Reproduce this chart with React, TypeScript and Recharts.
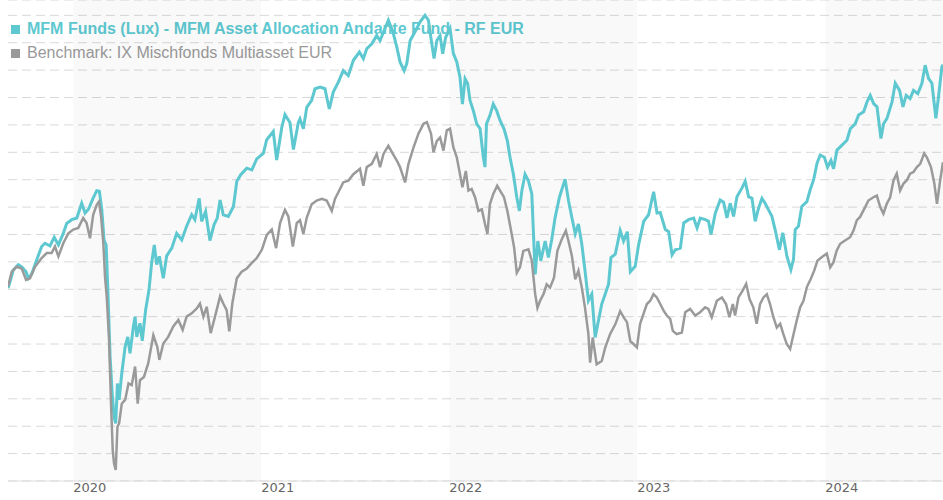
import React from 'react';
import {
  LineChart, Line, XAxis, YAxis, CartesianGrid, ReferenceArea,
} from 'recharts';

const FUND_NAME = 'MFM Funds (Lux) - MFM Asset Allocation Andante Fund - RF EUR';
const BENCH_NAME = 'Benchmark: IX Mischfonds Multiasset EUR';

const FUND_COLOR = '#5ec8d0';
const BENCH_COLOR = '#9a9a9a';

const yearTicks = [2020, 2021, 2022, 2023, 2024];
const shadedYears = [2020, 2022, 2024];
const valueTicks = [65, 70, 75, 80, 85, 90, 95, 100, 105, 110, 115, 120, 125, 130, 135, 140, 145, 150];

// x positions as decimal years
const fundYears = [
  2019.653, 2019.664, 2019.681, 2019.708, 2019.726, 2019.749, 2019.761, 2019.779, 2019.806, 2019.832,
  2019.850, 2019.876, 2019.899, 2019.921, 2019.947, 2019.965, 2019.992, 2020.019, 2020.045, 2020.063,
  2020.081, 2020.104, 2020.125, 2020.139, 2020.152, 2020.164, 2020.175, 2020.184, 2020.196, 2020.207,
  2020.217, 2020.226, 2020.235, 2020.244, 2020.258, 2020.276, 2020.290, 2020.302, 2020.320, 2020.329,
  2020.338, 2020.355, 2020.367, 2020.385, 2020.403, 2020.417, 2020.431, 2020.444, 2020.458, 2020.479,
  2020.497, 2020.524, 2020.550, 2020.577, 2020.603, 2020.630, 2020.647, 2020.670, 2020.683, 2020.704,
  2020.727, 2020.749, 2020.766, 2020.781, 2020.798, 2020.825, 2020.852, 2020.870, 2020.891, 2020.923,
  2020.950, 2020.976, 2021.011, 2021.029, 2021.064, 2021.082, 2021.109, 2021.126, 2021.153, 2021.171,
  2021.197, 2021.206, 2021.224, 2021.242, 2021.268, 2021.286, 2021.313, 2021.339, 2021.348, 2021.362,
  2021.383, 2021.410, 2021.436, 2021.463, 2021.490, 2021.522, 2021.543, 2021.561, 2021.588, 2021.614,
  2021.632, 2021.658, 2021.676, 2021.700, 2021.721, 2021.738, 2021.760, 2021.774, 2021.792, 2021.818,
  2021.845, 2021.871, 2021.889, 2021.907, 2021.919, 2021.934, 2021.951, 2021.965, 2021.981, 2022.004,
  2022.022, 2022.040, 2022.057, 2022.070, 2022.084, 2022.098, 2022.110, 2022.128, 2022.146, 2022.164,
  2022.181, 2022.190, 2022.198, 2022.216, 2022.234, 2022.252, 2022.270, 2022.291, 2022.309, 2022.323,
  2022.341, 2022.359, 2022.373, 2022.386, 2022.403, 2022.421, 2022.439, 2022.457, 2022.471, 2022.487,
  2022.510, 2022.527, 2022.545, 2022.563, 2022.586, 2022.616, 2022.634, 2022.652, 2022.670, 2022.687,
  2022.705, 2022.722, 2022.740, 2022.758, 2022.776, 2022.793, 2022.811, 2022.829, 2022.847, 2022.860,
  2022.883, 2022.909, 2022.927, 2022.947, 2022.963, 2022.989, 2023.007, 2023.034, 2023.060, 2023.087,
  2023.105, 2023.122, 2023.149, 2023.167, 2023.185, 2023.202, 2023.229, 2023.247, 2023.273, 2023.300,
  2023.318, 2023.335, 2023.362, 2023.379, 2023.392, 2023.415, 2023.441, 2023.459, 2023.477, 2023.494,
  2023.512, 2023.530, 2023.557, 2023.574, 2023.592, 2023.610, 2023.627, 2023.645, 2023.663, 2023.680,
  2023.698, 2023.716, 2023.733, 2023.756, 2023.774, 2023.796, 2023.817, 2023.831, 2023.840, 2023.857,
  2023.875, 2023.902, 2023.920, 2023.938, 2023.956, 2023.973, 2023.995, 2024.012, 2024.030, 2024.044,
  2024.062, 2024.089, 2024.115, 2024.133, 2024.159, 2024.177, 2024.204, 2024.222, 2024.239, 2024.257,
  2024.275, 2024.296, 2024.310, 2024.328, 2024.355, 2024.372, 2024.395, 2024.413, 2024.430, 2024.451,
  2024.469, 2024.492, 2024.514, 2024.531, 2024.549, 2024.567, 2024.588, 2024.602, 2024.620, 2024.626,
];

const fundValues = [
  100.2, 101.4, 103.5, 104.5, 104.1, 103.2, 102.0, 102.8, 105.4, 107.8,
  108.4, 107.9, 109.5, 108.1, 110.2, 112.0, 112.7, 113.0, 115.7, 113.9,
  114.6, 116.5, 118.0, 117.9, 114.5, 108.9, 108.1, 99.9, 87.7, 81.0,
  76.7, 75.5, 82.8, 79.8, 84.6, 89.5, 91.3, 88.3, 93.2, 95.0,
  91.3, 93.8, 90.6, 96.2, 99.9, 104.8, 108.1, 104.5, 106.0, 102.0,
  106.1, 107.5, 110.2, 109.0, 111.5, 113.6, 112.7, 116.6, 112.4, 114.2,
  108.9, 111.8, 113.0, 116.3, 113.6, 113.3, 115.1, 119.7, 120.9, 122.1,
  121.8, 123.8, 124.8, 127.3, 128.8, 123.6, 129.5, 131.9, 130.4, 125.5,
  130.4, 131.1, 129.3, 133.2, 134.5, 136.6, 136.9, 136.6, 135.1, 132.9,
  136.0, 137.8, 139.9, 139.0, 141.8, 143.3, 142.1, 143.9, 144.8, 146.3,
  145.4, 147.6, 149.1, 147.0, 144.2, 141.5, 139.9, 141.2, 145.4, 147.0,
  148.8, 150.0, 149.1, 144.8, 142.1, 145.4, 146.3, 143.0, 146.0, 147.6,
  143.0, 141.5, 138.7, 133.8, 138.4, 137.5, 134.5, 132.6, 130.2, 129.3,
  124.1, 122.3, 130.2, 131.7, 133.8, 132.6, 130.8, 129.3, 127.1, 124.1,
  121.0, 116.8, 114.3, 118.0, 121.0, 119.8, 117.4, 102.7, 108.8, 105.2,
  108.8, 105.8, 109.1, 113.1, 116.8, 120.1, 116.2, 113.1, 110.1, 111.9,
  108.2, 103.4, 97.9, 99.1, 91.2, 94.2, 97.3, 99.1, 100.9, 105.8,
  106.4, 110.7, 108.8, 110.5, 103.2, 104.2, 108.1, 112.4, 113.6, 117.8,
  113.9, 114.0, 110.9, 110.5, 106.3, 107.2, 107.5, 112.1, 112.7, 113.0,
  111.2, 113.0, 112.7, 112.4, 110.0, 113.9, 116.3, 115.9, 113.0, 115.7,
  113.3, 116.9, 118.5, 119.7, 116.9, 116.6, 112.4, 114.8, 116.6, 115.7,
  114.5, 113.3, 110.9, 107.2, 110.3, 106.0, 103.6, 105.5, 110.9, 111.5,
  115.1, 116.0, 118.2, 120.0, 123.0, 124.5, 124.1, 122.3, 123.5, 122.0,
  125.4, 126.3, 127.2, 129.3, 130.2, 131.8, 132.4, 134.2, 135.4, 133.9,
  133.3, 127.5, 130.2, 131.2, 134.2, 137.6, 136.3, 133.3, 135.4, 134.8,
  136.3, 135.7, 137.6, 140.9, 138.5, 137.6, 131.2, 135.1, 140.6, 141.0,
];

const benchYears = [
  2019.653, 2019.673, 2019.699, 2019.726, 2019.749, 2019.770, 2019.797, 2019.832, 2019.859, 2019.885,
  2019.903, 2019.921, 2019.947, 2019.974, 2020.000, 2020.027, 2020.053, 2020.071, 2020.089, 2020.106,
  2020.125, 2020.137, 2020.148, 2020.160, 2020.169, 2020.178, 2020.190, 2020.201, 2020.210, 2020.217,
  2020.226, 2020.235, 2020.244, 2020.258, 2020.276, 2020.294, 2020.311, 2020.329, 2020.343, 2020.355,
  2020.376, 2020.399, 2020.426, 2020.447, 2020.458, 2020.479, 2020.505, 2020.532, 2020.559, 2020.582,
  2020.603, 2020.630, 2020.657, 2020.674, 2020.692, 2020.710, 2020.731, 2020.754, 2020.781, 2020.798,
  2020.816, 2020.830, 2020.846, 2020.870, 2020.896, 2020.923, 2020.950, 2020.976, 2021.003, 2021.029,
  2021.056, 2021.079, 2021.100, 2021.126, 2021.144, 2021.168, 2021.189, 2021.206, 2021.224, 2021.242,
  2021.268, 2021.295, 2021.322, 2021.348, 2021.375, 2021.392, 2021.410, 2021.436, 2021.463, 2021.490,
  2021.525, 2021.543, 2021.561, 2021.588, 2021.614, 2021.632, 2021.650, 2021.676, 2021.700, 2021.721,
  2021.738, 2021.765, 2021.783, 2021.810, 2021.836, 2021.863, 2021.881, 2021.903, 2021.916, 2021.934,
  2021.951, 2021.969, 2021.987, 2022.004, 2022.022, 2022.040, 2022.057, 2022.070, 2022.088, 2022.102,
  2022.119, 2022.137, 2022.155, 2022.173, 2022.190, 2022.203, 2022.216, 2022.234, 2022.255, 2022.270,
  2022.291, 2022.309, 2022.327, 2022.345, 2022.359, 2022.376, 2022.394, 2022.421, 2022.439, 2022.457,
  2022.469, 2022.483, 2022.501, 2022.518, 2022.536, 2022.557, 2022.575, 2022.598, 2022.620, 2022.634,
  2022.652, 2022.670, 2022.687, 2022.705, 2022.722, 2022.740, 2022.749, 2022.763, 2022.784, 2022.811,
  2022.829, 2022.855, 2022.883, 2022.909, 2022.927, 2022.945, 2022.963, 2022.980, 2022.998, 2023.015,
  2023.033, 2023.051, 2023.069, 2023.086, 2023.104, 2023.122, 2023.140, 2023.157, 2023.175, 2023.189,
  2023.210, 2023.237, 2023.255, 2023.281, 2023.308, 2023.334, 2023.361, 2023.378, 2023.396, 2023.423,
  2023.450, 2023.472, 2023.490, 2023.508, 2023.520, 2023.538, 2023.561, 2023.579, 2023.597, 2023.617,
  2023.635, 2023.653, 2023.671, 2023.689, 2023.706, 2023.724, 2023.742, 2023.760, 2023.777, 2023.795,
  2023.813, 2023.831, 2023.848, 2023.866, 2023.884, 2023.902, 2023.923, 2023.941, 2023.958, 2023.982,
  2024.008, 2024.026, 2024.043, 2024.061, 2024.079, 2024.105, 2024.132, 2024.150, 2024.168, 2024.185,
  2024.212, 2024.229, 2024.256, 2024.274, 2024.292, 2024.309, 2024.327, 2024.345, 2024.363, 2024.380,
  2024.398, 2024.416, 2024.434, 2024.451, 2024.469, 2024.487, 2024.505, 2024.526, 2024.540, 2024.562,
  2024.580, 2024.594, 2024.611, 2024.626,
];

const benchValues = [
  100.5, 103.2, 104.1, 103.8, 101.7, 102.0, 104.1, 105.7, 106.6, 106.6,
  107.8, 106.0, 108.4, 110.2, 110.9, 111.2, 113.0, 112.1, 109.3, 113.6,
  115.4, 116.0, 113.3, 108.4, 102.3, 98.7, 91.3, 79.1, 70.6, 68.2,
  67.0, 74.9, 75.5, 79.1, 79.8, 82.8, 82.5, 85.9, 79.1, 83.4,
  84.0, 86.5, 91.6, 89.5, 87.1, 90.1, 91.3, 93.2, 94.4, 92.6,
  95.0, 95.6, 96.5, 97.4, 95.0, 96.8, 92.0, 95.0, 98.7, 97.4,
  96.2, 92.3, 97.4, 102.0, 103.2, 103.8, 104.8, 105.7, 107.2, 109.9,
  110.9, 107.5, 112.1, 114.5, 113.3, 107.8, 112.1, 112.6, 110.1, 113.1,
  115.5, 116.2, 116.5, 116.2, 114.3, 116.5, 117.7, 119.5, 119.8, 121.0,
  122.0, 118.9, 122.3, 122.9, 124.7, 122.3, 124.7, 126.2, 124.7, 123.5,
  122.3, 119.5, 122.9, 125.9, 128.4, 130.2, 130.5, 128.4, 125.0, 127.1,
  127.7, 125.3, 129.0, 129.3, 125.9, 124.1, 121.0, 118.6, 121.6, 118.0,
  118.3, 116.8, 114.3, 114.6, 111.9, 110.1, 115.5, 117.4, 118.9, 118.0,
  116.8, 114.3, 111.0, 107.6, 103.0, 104.0, 107.0, 107.3, 105.2, 99.1,
  96.6, 97.9, 99.1, 100.9, 100.3, 102.1, 107.0, 109.1, 110.7, 108.8,
  106.1, 101.8, 103.4, 100.3, 96.6, 91.8, 86.6, 91.2, 86.3, 86.9,
  89.3, 91.8, 93.6, 96.0, 94.9, 94.0, 90.5, 90.0, 89.4, 93.7,
  95.5, 97.3, 97.9, 99.1, 98.5, 97.3, 96.1, 95.2, 94.6, 92.4,
  91.8, 92.1, 95.8, 96.4, 95.2, 95.8, 96.7, 96.4, 94.9, 97.9,
  98.5, 97.3, 94.9, 97.3, 95.2, 98.5, 99.8, 101.0, 98.2, 96.7,
  93.7, 97.3, 98.5, 99.1, 97.3, 94.9, 93.0, 93.7, 91.8, 90.0,
  89.1, 91.8, 94.3, 96.7, 97.9, 100.4, 101.9, 103.4, 105.2, 105.9,
  106.5, 104.0, 104.9, 107.1, 108.3, 108.9, 109.5, 110.7, 112.6, 113.2,
  115.0, 116.2, 116.8, 117.1, 115.0, 113.8, 115.6, 116.8, 119.9, 121.1,
  118.0, 119.3, 119.9, 121.1, 121.4, 122.3, 122.9, 124.8, 124.1, 122.3,
  119.3, 115.6, 119.9, 123.2,
];

const toPoints = (years: number[], values: number[]) =>
  years.map((t, i) => ({ t, v: values[i] })).filter((p) => p.v !== undefined);

const fundData = toPoints(fundYears, fundValues);
const benchData = toPoints(benchYears, benchValues);

const YearTick = ({ x, y, payload }: any) => (
  <text
    x={x}
    y={y}
    dy="0.71em"
    textAnchor="start"
    fill="#666"
    fontSize={13}
    fontFamily="'DejaVu Sans', Verdana, sans-serif"
  >
    {payload.value}
  </text>
);

const legendRow = (top: number, color: string, label: string, bold: boolean) => (
  <div style={{ position: 'absolute', left: 11, top, height: 18, display: 'flex', alignItems: 'center' }}>
    <span style={{ width: 9, height: 9, background: color, display: 'inline-block', marginRight: 7 }} />
    <span
      style={{
        color,
        fontSize: 16,
        lineHeight: '18px',
        fontWeight: bold ? 700 : 400,
        fontFamily: "'Liberation Sans', Arial, sans-serif",
        whiteSpace: 'nowrap',
      }}
    >
      {label}
    </span>
  </div>
);

export default function App() {
  return (
    <div style={{ position: 'relative', width: 943, height: 500 }}>
      <style>{'body { margin: 0; }'}</style>
      {legendRow(20, FUND_COLOR, FUND_NAME, true)}
      {legendRow(44, BENCH_COLOR, BENCH_NAME, false)}
      <LineChart width={943} height={500} margin={{ top: 0, right: 0, bottom: 0, left: 8 }}>
        <CartesianGrid vertical={false} stroke="#d9d9d9" strokeDasharray="9 5" />
        {shadedYears.map((yr) => (
          <ReferenceArea
            key={yr}
            x1={yr}
            x2={Math.min(yr + 1, 2024.626)}
            fill="#000"
            fillOpacity={0.025}
            stroke="none"
            ifOverflow="hidden"
          />
        ))}
        <XAxis
          dataKey="t"
          type="number"
          domain={[2019.653, 2024.626]}
          ticks={yearTicks}
          allowDataOverflow
          height={19}
          tickSize={0}
          tickMargin={2}
          tickLine={false}
          axisLine={{ stroke: '#dddddd' }}
          tick={<YearTick />}
        />
        <YAxis hide type="number" domain={[65, 152.8]} ticks={valueTicks} allowDataOverflow />
        <Line
          data={fundData}
          dataKey="v"
          type="linear"
          stroke={FUND_COLOR}
          strokeWidth={3}
          dot={false}
          isAnimationActive={false}
        />
        <Line
          data={benchData}
          dataKey="v"
          type="linear"
          stroke={BENCH_COLOR}
          strokeWidth={2.5}
          dot={false}
          isAnimationActive={false}
        />
      </LineChart>
    </div>
  );
}
